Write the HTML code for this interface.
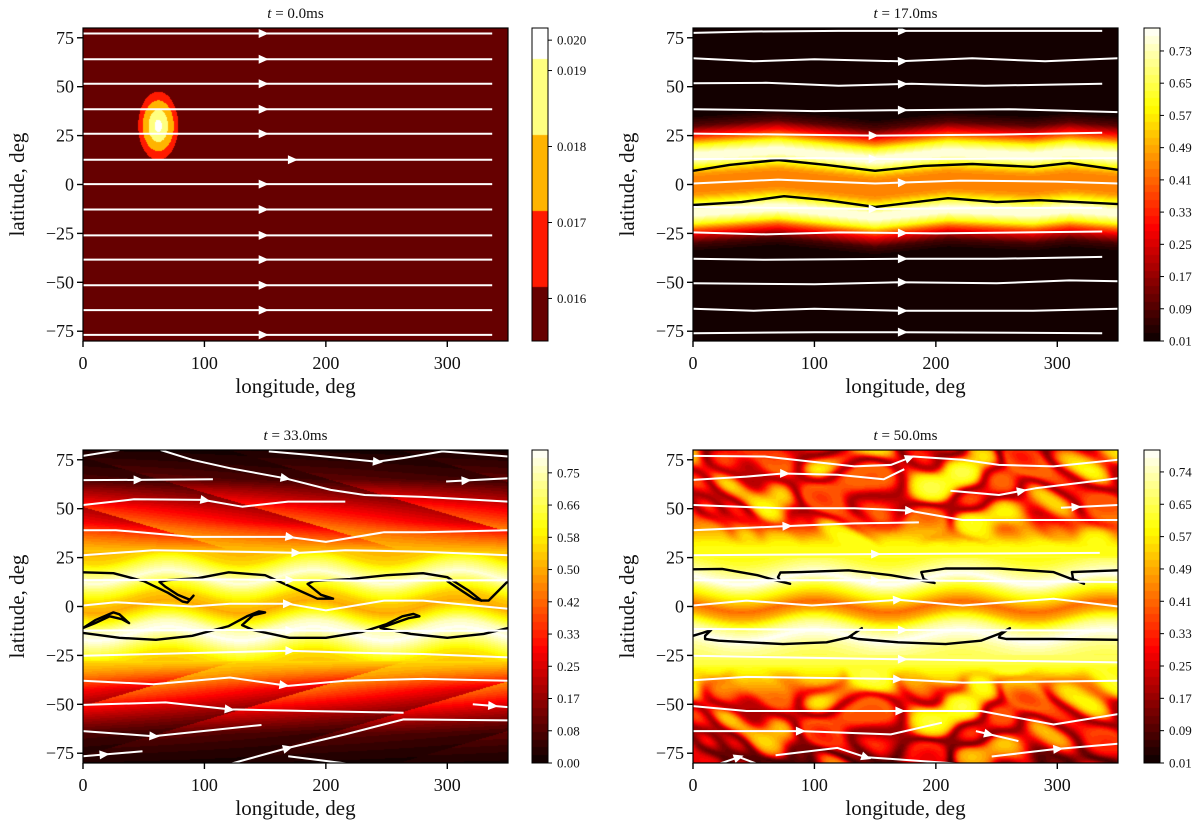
<!DOCTYPE html>
<html><head><meta charset="utf-8">
<style>
html,body{margin:0;padding:0;background:#fff;}
#wrap{position:relative;width:1200px;height:828px;overflow:hidden;background:#fff;}
canvas{position:absolute;}
svg{position:absolute;left:0;top:0;}
text{font-family:"Liberation Serif",serif;fill:#111;}
</style></head>
<body>
<div id="wrap">
<canvas id="f1" width="425" height="313" style="left:83px;top:28px"></canvas>
<canvas id="f2" width="425" height="313" style="left:693px;top:28px"></canvas>
<canvas id="f3" width="425" height="313" style="left:83px;top:450px"></canvas>
<canvas id="f4" width="425" height="313" style="left:693px;top:450px"></canvas>
<canvas id="c1" width="16" height="313" style="left:532px;top:28px"></canvas>
<canvas id="c2" width="16" height="313" style="left:1144px;top:28px"></canvas>
<canvas id="c3" width="16" height="313" style="left:532px;top:450px"></canvas>
<canvas id="c4" width="16" height="313" style="left:1144px;top:450px"></canvas>
<svg id="ov" width="1200" height="828" xmlns="http://www.w3.org/2000/svg"></svg>
</div>
<script>
// ---------- axis data ----------
const xTicks = [0,100,200,300];
const yTicks = [-75,-50,-25,0,25,50,75];
const lonMax = 350, latMin = -80, latMax = 80;

// ---------- panel 1 (t=0) ----------
const p1Center = [62,30];
const p1RingLon = [16.5,12.8,8,3];
const p1RingLat = [17.5,13,8.3,3.2];
const p1Colors = ['#660000','#ff1a00','#ffb400','#ffff80','#ffffff'];
const p1CbEdges = [0.01615,0.01715,0.01815,0.01915];
const p1CbTicks = [0.016,0.017,0.018,0.019,0.0194];
const p1CbLabels = ['0.016','0.017','0.018','0.019','0.020'];
const p1StreamLats = [77.2,64,51.5,38.5,25.9,12.7,0.2,-12.8,-26,-38.4,-51.5,-64.2,-76.9];
const p1ArrowLons = [148,148,148,148,148,172,148,148,148,148,148,148,148];

// ---------- panel 2 (t=17) ----------
const p2ProfLat = [-80,-35,-30,-26,-23,-20,-16,-13,-9,-5,0,5,9,13,16,20,23,26,30,35,80];
const p2ProfVal = [0.01,0.01,0.08,0.25,0.4,0.6,0.76,0.76,0.6,0.46,0.44,0.46,0.6,0.76,0.76,0.6,0.42,0.28,0.1,0.02,0.01];
const p2WaveLon = [0,70,150,210,280,310,350];
const p2WaveD = [0,3,-2,2,0,2,0];
const p2CbTicks = [0.01,0.09,0.17,0.25,0.33,0.41,0.49,0.57,0.65,0.73];
const p2Streams = [
 [[0,77.5],[50,78.2],[120,78.5],[200,78.5],[337,78.5]],
 [[0,64.5],[50,63],[100,64],[170,63],[230,64.5],[290,63],[350,64.5]],
 [[0,51.8],[60,52],[120,50.5],[180,51.5],[240,50.5],[337,51.5]],
 [[0,38.5],[60,38],[100,37.5],[170,38],[260,38.5],[350,37]],
 [[0,26],[80,25.5],[150,25],[250,25.5],[337,26.5]],
 [[0,13],[100,13.5],[170,13],[350,13.5]],
 [[0,0.5],[70,2.5],[150,0.5],[220,2],[300,1.5],[350,0.5]],
 [[0,-11.5],[80,-12],[150,-12.5],[250,-12],[337,-12]],
 [[0,-24.5],[60,-25.5],[120,-24.5],[200,-25],[337,-24]],
 [[0,-38],[60,-38.5],[170,-38],[250,-38],[337,-37]],
 [[0,-50.5],[100,-51],[170,-50],[250,-50.5],[310,-49],[350,-49.5]],
 [[0,-63.5],[50,-64.5],[100,-63.5],[170,-64.5],[280,-64.5],[350,-63.5]],
 [[0,-76],[100,-75.5],[170,-75.5],[337,-76]]
];
const p2ArrowLons = [172,172,172,172,148,148,172,148,172,172,172,172,172];
const p2Contours = [
 [[0,7],[30,10],[70,12.5],[110,10],[150,7],[190,9.5],[230,10.5],[280,9],[310,11],[350,7.5]],
 [[0,-10.5],[40,-9],[75,-6],[110,-8],[150,-11.5],[210,-7],[250,-9],[285,-8],[350,-10]]
];

// ---------- panel 3 (t=33) ----------
const p3ProfLat = [-80,-65,-55,-45,-35,-25,-20,-14,-10,-5,0,5,10,15,20,25,32,40,50,60,65,80];
const p3ProfVal = [0.02,0.1,0.25,0.4,0.5,0.58,0.68,0.8,0.75,0.6,0.5,0.55,0.65,0.78,0.68,0.56,0.5,0.45,0.35,0.2,0.1,0.02];
const p3StripePeriod = [140];
const p3StripeSlope = [5.5];
const p3CbTicks = [0,0.0833,0.1667,0.25,0.3333,0.4167,0.5,0.5833,0.6667,0.75];
const p3CbLabels = ['0.00','0.08','0.17','0.25','0.33','0.42','0.50','0.58','0.66','0.75'];
const p3Streams = [
 [[0,77],[30,80]],
 [[64,80],[90,75],[121,70.7],[166,65.6],[204,59.6],[232,57],[280,56],[350,53.6]],
 [[153,79.3],[185,77.6],[242,74],[264,75.9],[296,79.3],[350,76.7]],
 [[0,64.6],[45,64.7],[107,65]],
 [[299,63.9],[350,65.6]],
 [[0,51.9],[42,54.8],[99,54.5],[131,51],[169,53.6],[216,53.6]],
 [[0,39],[27,39],[90,35.6],[169,35.6],[200,33],[248,38],[280,38],[350,39]],
 [[0,26.2],[58,28.8],[128,28],[178,27.4],[216,28.8],[280,28],[350,26.2]],
 [[0,13.4],[120,13.8],[240,13.2],[350,13.4]],
 [[0,0.5],[27,2.2],[90,0],[121,1.4],[169,1.4],[200,-2],[248,3],[280,3],[350,-1.2]],
 [[0,-12.3],[120,-12],[240,-12.5],[350,-12.3]],
 [[0,-25.2],[58,-24.3],[169,-22.6],[216,-23.5],[280,-24.3],[350,-26]],
 [[0,-38],[58,-39.7],[121,-36.3],[169,-40.6],[216,-38],[280,-37],[350,-38]],
 [[0,-50.3],[68,-49],[121,-52.6],[185,-53.4],[264,-54.3]],
 [[321,-50],[350,-51.4]],
 [[0,-63.7],[58,-66.3],[147,-60.6]],
 [[121,-80.5],[169,-72.3],[216,-65.4],[264,-57.7],[350,-58.2]],
 [[0,-76.5],[49,-74]],
 [[169,-76.5],[220,-80.5]]
];
const p3ArrowLons = [null,166,242,45,315,100,170,175,170,168,170,170,165,120,337,58,168,17,null];
const p3Contours = [
 [[0,17.5],[25,17],[50,13],[70,7],[82,2.5],[86,2],[91,5.5],[88,3.5],[78,6],[68,10],[63,12.5],[70,13.5],[95,14.5],[120,17.5],[150,16],[175,9],[193,4],[206,4],[196,6],[185,11.5],[190,13],[220,14],[250,16],[280,17],[300,15],[318,8],[328,3],[334,3],[342,8],[350,13]],
 [[300,13],[312,8],[322,4],[328,3]],
 [[0,-11],[10,-7],[25,-3],[30,-4],[38,-8.5],[32,-6.5],[22,-5],[10,-8.5],[0,-11]],
 [[0,-13.5],[30,-16],[60,-17],[90,-15],[120,-10],[135,-5],[145,-2.5],[150,-3],[140,-4.5],[131,-9.5],[140,-12],[170,-16],[200,-16],[230,-13],[250,-9],[263,-5],[272,-3.8],[277,-5],[268,-6],[245,-11],[270,-14],[300,-16],[330,-14],[350,-11]]
];

// ---------- panel 4 (t=50) ----------
const p4ProfLat = [-80,-70,-55,-45,-35,-28,-20,-15,-10,-4,0,3,8,14,18,25,33,40,50,60,70,80];
const p4ProfVal = [0.38,0.45,0.5,0.52,0.6,0.65,0.72,0.79,0.7,0.5,0.42,0.5,0.62,0.79,0.72,0.62,0.6,0.54,0.5,0.5,0.52,0.45];
const p4ModeKx = [2,3,5,4,7,6,9,3];
const p4ModeKy = [2,-3,4,-3,5,-4,6,-2];
const p4ModeAmp = [0.35,0.3,0.25,0.22,0.18,0.15,0.12,0.2];
const p4ModePh = [0.3,1.7,2.9,4.1,0.9,5.2,2.2,3.6];
const p4CbTicks = [0.01,0.0911,0.1722,0.2533,0.3344,0.4156,0.4967,0.5778,0.6589,0.74];
const p4CbLabels = ['0.01','0.09','0.17','0.25','0.33','0.41','0.49','0.57','0.65','0.74'];
const p4Streams = [
 [[0,77],[59,76.7],[133,71.6],[163,72.4],[181,76.7],[222,75],[252,72.4],[297,71.6],[350,75]],
 [[0,64.7],[44,66.4],[74,68],[119,67.3],[157,65],[174,70.2]],
 [[212,59.2],[252,57],[282,60.4],[350,65.6]],
 [[303,50.5],[350,51.9]],
 [[0,51.9],[74,50.2],[133,50.2],[178,49],[222,44.2],[350,44.2]],
 [[0,39],[74,41],[133,42.5],[186,43]],
 [[0,26.2],[150,26.8],[335,27.4]],
 [[0,13.4],[163,13.4],[350,12.5]],
 [[0,0.5],[44,3],[98,0.5],[169,3.4],[222,0.5],[297,4],[350,0]],
 [[0,-11.5],[170,-12],[335,-12.3]],
 [[0,-25.2],[172,-27],[350,-28.6]],
 [[0,-37.7],[44,-36],[163,-37],[222,-38.9],[350,-38]],
 [[0,-50.9],[44,-53.4],[169,-53.4],[237,-53.4],[297,-60.3],[350,-55]],
 [[0,-63.7],[89,-63.7],[163,-65.4],[205,-59.4]],
 [[233,-63.7],[268,-68.8]],
 [[68,-76],[119,-72.3],[142,-77],[222,-80.5]],
 [[246,-76.7],[297,-73],[350,-70.2]],
 [[21,-80.5],[38,-77],[53,-80.5]]
];
const p4ArrowLons = [178,75,270,315,178,77,150,150,168,172,172,168,170,88,243,142,300,37];
const p4Contours = [
 [[0,19],[24,19.2],[53,16],[68,13.4],[80,11.6],[72,13],[70,15],[72,17.4],[89,17.6],[128,18.5],[163,16],[187,13.4],[199,12],[190,14],[188,17.6],[208,19.4],[252,19.4],[297,17.6],[312,14],[322,11.6],[313,14],[312,17.6],[350,18.5]],
 [[0,-15],[8,-13.5],[15,-12],[10,-15],[10,-16.6],[21,-17.5],[74,-19.2],[110,-18.3],[128,-15.8],[139,-11.1],[131,-14.5],[130,-15.8],[136,-16.6],[169,-18.3],[208,-19.2],[237,-17.5],[252,-14],[261,-11.1],[253,-14.5],[252,-15.8],[258,-16.6],[297,-16.6],[350,-17]]
];

// ---------- helpers ----------
const W = 425, H = 313;
function lin(xs, ys, x){
  if (x <= xs[0]) return ys[0];
  for (let i=1;i<xs.length;i++){ if (x <= xs[i]) { const t=(x-xs[i-1])/(xs[i]-xs[i-1]); return ys[i-1]+t*(ys[i]-ys[i-1]); } }
  return ys[ys.length-1];
}
function clamp(v){return v<0?0:(v>1?1:v);}
function hot(t){ t=clamp(t); return [Math.round(255*clamp(0.0416+t/0.365*0.9584)), Math.round(255*clamp((t-0.365)/0.381)), Math.round(255*clamp((t-0.746)/0.254))]; }
const SVGNS = 'http://www.w3.org/2000/svg';
const ov = document.getElementById('ov');
function el(tag, attrs, parent){ const e=document.createElementNS(SVGNS,tag); for (const k in attrs) e.setAttribute(k, attrs[k]); (parent||ov).appendChild(e); return e; }

function renderField(id, fn, vmin, vmax, nLev){
  const cv=document.getElementById(id), ctx=cv.getContext('2d'), img=ctx.createImageData(W,H);
  for (let py=0;py<H;py++){ const lat=latMax-(py+0.5)/H*(latMax-latMin);
    for (let px=0;px<W;px++){ const lon=(px+0.5)/W*lonMax;
      let v=fn(lon,lat); let k=Math.floor((v-vmin)/(vmax-vmin)*nLev); if(k<0)k=0; if(k>=nLev)k=nLev-1;
      const c=hot((k+0.5)/nLev); const o=(py*W+px)*4; img.data[o]=c[0]; img.data[o+1]=c[1]; img.data[o+2]=c[2]; img.data[o+3]=255; } }
  ctx.putImageData(img,0,0);
}
function renderBar(id, vmin, vmax, nLev){
  const cv=document.getElementById(id), ctx=cv.getContext('2d');
  for (let py=0;py<H;py++){ const v=vmin+(H-py-0.5)/H*(vmax-vmin); let k=Math.floor((v-vmin)/(vmax-vmin)*nLev); if(k>=nLev)k=nLev-1;
    const c=hot((k+0.5)/nLev); ctx.fillStyle='rgb('+c+')'; ctx.fillRect(0,py,16,1); }
}

// ---------- fields ----------
function f1(lon,lat){ let n=0; for (let i=0;i<p1RingLon.length;i++){ const a=(lon-p1Center[0])/p1RingLon[i], b=(lat-p1Center[1])/p1RingLat[i]; if (a*a+b*b<=1) n=i+1; } return n; }
(function(){ const cv=document.getElementById('f1'), ctx=cv.getContext('2d');
  for (let py=0;py<H;py++){ const lat=latMax-(py+0.5)/H*160; for (let px=0;px<W;px++){ const lon=(px+0.5)/W*lonMax; ctx.fillStyle=p1Colors[f1(lon,lat)]; ctx.fillRect(px,py,1,1);} } })();
function f2(lon,lat){ const d=lin(p2WaveLon,p2WaveD,lon); return lin(p2ProfLat,p2ProfVal,lat-d); }
renderField('f2', f2, 0.01, 0.787, 40);
function f3(lon,lat){
  const d = Math.abs(lat)<28 ? 3.5*Math.sin(2*Math.PI*(lon-40)/120) : 0;
  let v = lin(p3ProfLat,p3ProfVal,lat-d);
  const al=Math.abs(lat); const w = clamp((al-28)/15);
  let ph = (lon + p3StripeSlope[0]*al)/p3StripePeriod[0]; ph = ph-Math.floor(ph);
  v = v*(1-0.45*w*ph);
  return v;
}
renderField('f3', f3, 0, 0.809, 40);
function f4(lon,lat){
  const d = Math.abs(lat)<25 ? 3*Math.sin(2*Math.PI*(lon-70)/120) : 0;
  let v = lin(p4ProfLat,p4ProfVal,lat-d);
  const al=Math.abs(lat); const w=clamp((al-30)/18);
  if (w>0){ let s=0; const lr=lon*Math.PI/180, tr=lat*Math.PI/180*3;
    for (let i=0;i<p4ModeKx.length;i++) s+=p4ModeAmp[i]*Math.sin(p4ModeKx[i]*lr+p4ModeKy[i]*tr+p4ModePh[i]+0.6*Math.sin(2*tr+lr));
    v = v + w*(0.12*s - 0.3*Math.exp(-Math.pow(s*2.5,2)));
  }
  return v;
}
renderField('f4', f4, 0.01, 0.795, 40);

// colorbars
(function(){ const cv=document.getElementById('c1'), ctx=cv.getContext('2d'); const vmin=0.01544, vmax=0.01956;
  for (let py=0;py<H;py++){ const v=vmin+(H-py-0.5)/H*(vmax-vmin); let k=0; for (let i=0;i<p1CbEdges.length;i++) if (v>p1CbEdges[i]) k=i+1; ctx.fillStyle=p1Colors[k]; ctx.fillRect(0,py,16,1);} })();
renderBar('c2',0.01,0.787,40);
renderBar('c3',0,0.809,40);
renderBar('c4',0.01,0.795,40);

// ---------- axes / overlays ----------
const panels = [
 {key:'t0', x:83, y:28, cbx:532, title:'0.0ms', vmin:0.01544, vmax:0.01956, ticks:p1CbTicks, labels:p1CbLabels},
 {key:'t17', x:693, y:28, cbx:1144, title:'17.0ms', vmin:0.01, vmax:0.787, ticks:p2CbTicks, labels:p2CbTicks.map(v=>v.toFixed(2))},
 {key:'t33', x:83, y:450, cbx:532, title:'33.0ms', vmin:0, vmax:0.809, ticks:p3CbTicks, labels:p3CbLabels},
 {key:'t50', x:693, y:450, cbx:1144, title:'50.0ms', vmin:0.01, vmax:0.795, ticks:p4CbTicks, labels:p4CbLabels}
];
const p1Streams = p1StreamLats.map(l=>[[0,l],[337,l]]);
const streamsAll = [p1Streams,p2Streams,p3Streams,p4Streams];
const arrowsAll = [p1ArrowLons,p2ArrowLons,p3ArrowLons,p4ArrowLons];
const contoursAll = [[],p2Contours,p3Contours,p4Contours];

panels.forEach((p,pi)=>{
  const sx = lon => p.x + lon/lonMax*W;
  const sy = lat => p.y + (latMax-lat)/(latMax-latMin)*H;
  const g = el('g',{});
  
  
  const cp = el('clipPath',{id:'clip'+pi},g); el('rect',{x:p.x,y:p.y,width:W,height:H},cp);
  const inner = el('g',{'clip-path':'url(#clip'+pi+')'},g);
  contoursAll[pi].forEach((c,ci)=>{
    const pl = el('polyline',{points:c.map(q=>sx(q[0]).toFixed(1)+','+sy(q[1]).toFixed(1)).join(' '),fill:'none',stroke:'#000','stroke-width':2.4,'stroke-linejoin':'round','stroke-linecap':'round'},inner);
    
    
  });
  streamsAll[pi].forEach((s,si)=>{
    const pl = el('polyline',{points:s.map(q=>sx(q[0]).toFixed(1)+','+sy(q[1]).toFixed(1)).join(' '),fill:'none',stroke:'#fff','stroke-width':2,'stroke-linejoin':'round'},inner);
    
    
    const al = arrowsAll[pi][si];
    if (al!==null && al!==undefined){
      let i=1; while (i<s.length-1 && s[i][0]<al) i++;
      const a=s[i-1], b=s[i]; const t=(b[0]===a[0])?0.5:clamp((al-a[0])/(b[0]-a[0]));
      const la=a[1]+t*(b[1]-a[1]);
      const x0=sx(al), y0=sy(la); const dx=sx(b[0])-sx(a[0]), dy=sy(b[1])-sy(a[1]); const ang=Math.atan2(dy,dx)*180/Math.PI;
      const tri = el('polygon',{points:'-4,-4.5 6,0 -4,4.5',fill:'#fff',transform:'translate('+x0.toFixed(1)+','+y0.toFixed(1)+') rotate('+ang.toFixed(1)+')'},inner);
      
      
    }
  });
  el('rect',{x:p.x,y:p.y,width:W,height:H,fill:'none',stroke:'#000','stroke-width':1.2},g);
  xTicks.forEach(v=>{ const x=sx(v);
    el('line',{x1:x,y1:p.y+H,x2:x,y2:p.y+H+6,stroke:'#000','stroke-width':1.4},g);
    const t=el('text',{x:x,y:p.y+H+28,'text-anchor':'middle','font-size':18},g); t.textContent=String(v);
    
    
  });
  yTicks.forEach(v=>{ const y=sy(v);
    el('line',{x1:p.x-6,y1:y,x2:p.x,y2:y,stroke:'#000','stroke-width':1.4},g);
    const t=el('text',{x:p.x-9,y:y+6,'text-anchor':'end','font-size':18},g); t.textContent=(v<0?'\u2212':'')+Math.abs(v);
    
    
  });
  const xl=el('text',{x:p.x+W/2,y:p.y+H+52,'text-anchor':'middle','font-size':21},g); xl.textContent='longitude, deg';
  
  
  const yl=el('text',{x:0,y:0,'text-anchor':'middle','font-size':21,'dominant-baseline':'central',transform:'translate('+(p.x-66)+','+(p.y+H/2)+') rotate(-90)'},g); yl.textContent='latitude, deg';
  
  
  const ti=el('text',{x:p.x+W/2,y:p.y-10,'text-anchor':'middle','font-size':15},g);
  const ts=el('tspan',{'font-style':'italic'},ti); ts.textContent='t';
  const ts2=el('tspan',{},ti); ts2.textContent=' = '+p.title;
  
  
  el('rect',{x:p.cbx,y:p.y,width:16,height:H,fill:'none',stroke:'#000','stroke-width':1},g);
  p.ticks.forEach((v,i)=>{ const y=p.y+H-(v-p.vmin)/(p.vmax-p.vmin)*H;
    el('line',{x1:p.cbx+16,y1:y,x2:p.cbx+20,y2:y,stroke:'#000','stroke-width':1},g);
    const t=el('text',{x:p.cbx+25,y:y+4.5,'font-size':13},g); t.textContent=p.labels[i];
    
    
  });
});
</script>
</body></html>
